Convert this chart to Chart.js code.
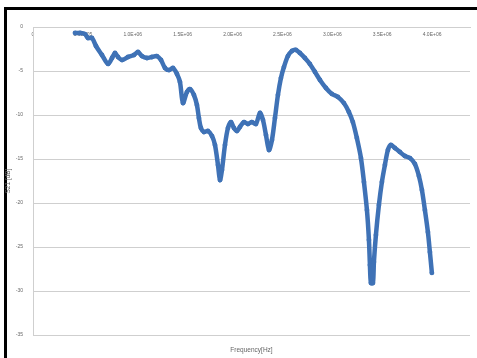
<!DOCTYPE html>
<html>
<head>
<meta charset="utf-8">
<style>
  html, body { margin: 0; padding: 0; background: #ffffff; }
  #wrap { width: 477px; height: 358px; position: relative; }
</style>
<script src="https://cdn.jsdelivr.net/npm/chart.js@4/dist/chart.umd.min.js"></script>
</head>
<body>
<div id="wrap"><canvas id="c" width="477" height="358"></canvas></div>
<script>
// Measured transmission S21 versus frequency
const frequencyHz = [
  421000, 471000, 521000, 551000, 591000, 631000, 691000, 752000, 792000, 822000,
  852000, 892000, 952000, 1012000, 1052000, 1092000, 1142000, 1192000, 1242000, 1283000,
  1323000, 1363000, 1403000, 1443000, 1473000, 1503000, 1543000, 1573000, 1613000, 1643000,
  1663000, 1683000, 1713000, 1753000, 1794000, 1824000, 1854000, 1874000, 1894000, 1924000,
  1954000, 1984000, 2014000, 2044000, 2074000, 2114000, 2154000, 2194000, 2234000, 2275000,
  2305000, 2335000, 2365000, 2395000, 2425000, 2455000, 2485000, 2515000, 2555000, 2595000,
  2635000, 2675000, 2725000, 2775000, 2826000, 2876000, 2936000, 2996000, 3056000, 3116000,
  3166000, 3206000, 3246000, 3287000, 3317000, 3347000, 3367000, 3377000, 3387000, 3407000,
  3417000, 3437000, 3467000, 3497000, 3527000, 3557000, 3587000, 3627000, 3677000, 3727000,
  3778000, 3828000, 3868000, 3898000, 3928000, 3958000, 3978000, 3998000
];
const s21dB = [
  -0.68, -0.68, -0.80, -1.25, -1.25, -2.16, -3.18, -4.20, -3.52, -2.95,
  -3.41, -3.75, -3.41, -3.18, -2.84, -3.30, -3.52, -3.41, -3.30, -3.75,
  -4.66, -4.89, -4.66, -5.34, -6.25, -8.64, -7.39, -7.05, -7.73, -8.86,
  -10.34, -11.48, -11.93, -11.82, -12.39, -13.41, -15.68, -17.39, -16.25, -13.41,
  -11.48, -10.80, -11.48, -11.82, -11.36, -10.80, -11.02, -10.80, -11.02, -9.77,
  -10.57, -12.27, -13.98, -12.84, -10.34, -7.73, -5.80, -4.55, -3.30, -2.73,
  -2.61, -2.95, -3.52, -4.20, -5.11, -6.02, -6.93, -7.61, -7.95, -8.64,
  -9.66, -10.80, -12.61, -14.89, -17.61, -20.80, -24.20, -27.05, -29.09, -29.09,
  -26.70, -23.64, -20.23, -17.61, -15.68, -13.98, -13.41, -13.75, -14.20, -14.66,
  -14.89, -15.57, -16.93, -18.52, -20.80, -23.30, -25.57, -27.95
];
const xTickValues = [0, 500000, 1000000, 1500000, 2000000, 2500000, 3000000, 3500000, 4000000];
const xTickLabels = ['0', '5.0E+05', '1.0E+06', '1.5E+06', '2.0E+06', '2.5E+06', '3.0E+06', '3.5E+06', '4.0E+06'];
const yTickValues = [0, -5, -10, -15, -20, -25, -30, -35];
const yTickLabels = ['0', '-5', '-10', '-15', '-20', '-25', '-30', '-35'];

const points = frequencyHz.map((f, i) => ({ x: f, y: s21dB[i] }));

const FONT = 'Liberation Sans, Arial, sans-serif';
const GRID = '#cfcfcf';
const TEXT = '#666666';

// Black frame along the top and left edges
const framePlugin = {
  id: 'frame',
  beforeDraw(chart) {
    const ctx = chart.ctx;
    ctx.save();
    ctx.fillStyle = '#ffffff';
    ctx.fillRect(0, 0, chart.width, chart.height);
    ctx.fillStyle = '#000000';
    ctx.fillRect(4, 7, chart.width - 4, 3);
    ctx.fillRect(4, 7, 3, chart.height - 7);
    ctx.restore();
  }
};

new Chart(document.getElementById('c'), {
  type: 'scatter',
  data: {
    datasets: [{
      label: 'S21',
      data: points,
      showLine: true,
      borderColor: '#3f72b6',
      backgroundColor: '#3f72b6',
      borderWidth: 4.5,
      pointRadius: 2.4,
      pointBorderWidth: 0,
      tension: 0.3
    }]
  },
  plugins: [framePlugin],
  options: {
    responsive: false,
    animation: false,
    layout: { padding: { left: 0, top: 27, right: 7, bottom: 0 } },
    plugins: { legend: { display: false }, tooltip: { enabled: false } },
    scales: {
      x: {
        type: 'linear',
        position: { y: 0 },
        min: 0,
        max: 4380000,
        afterBuildTicks(scale) { scale.ticks = xTickValues.map(v => ({ value: v })); },
        ticks: {
          autoSkip: false,
          maxRotation: 0,
          padding: 5,
          color: TEXT,
          font: { family: FONT, size: 5 },
          callback: (v, i) => xTickLabels[i]
        },
        grid: { display: false, drawTicks: false },
        border: { display: true, color: GRID, width: 1 }
      },
      x2: {
        type: 'linear',
        position: 'bottom',
        min: 0,
        max: 1,
        afterFit(scale) { scale.height = 23; },
        ticks: { display: false },
        grid: { display: false, drawTicks: false },
        border: { display: false },
        title: {
          display: true,
          text: 'Frequency[Hz]',
          color: TEXT,
          font: { family: FONT, size: 6.5 },
          padding: { top: 0, bottom: 4 }
        }
      },
      y: {
        type: 'linear',
        position: 'left',
        min: -35,
        max: 0,
        afterFit(scale) { scale.width = 33; },
        afterBuildTicks(scale) { scale.ticks = yTickValues.map(v => ({ value: v })); },
        ticks: {
          padding: 10,
          color: TEXT,
          font: { family: FONT, size: 5 },
          callback: (v, i) => yTickLabels[i]
        },
        grid: { color: GRID, lineWidth: 1, drawTicks: false },
        border: { display: true, color: GRID, width: 1 },
        title: {
          display: true,
          text: 'S21 [dB]',
          color: TEXT,
          font: { family: FONT, size: 6.5 },
          padding: { top: 4.5, bottom: 0 }
        }
      }
    }
  }
});
</script>
</body>
</html>
